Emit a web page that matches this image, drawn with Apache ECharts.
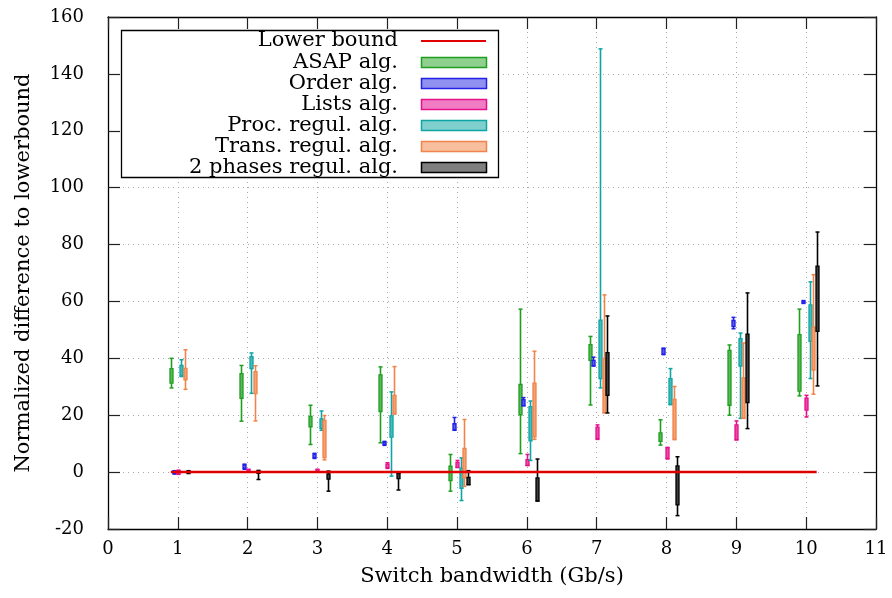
<!DOCTYPE html>
<html><head><meta charset="utf-8">
<script src="https://cdn.jsdelivr.net/npm/echarts@6/dist/echarts.min.js"></script>
<style>html,body{margin:0;padding:0;background:#fff}#c{width:892px;height:598px}</style>
</head><body><div id="c"></div>
<script>
// ---- data ----
const bandwidths = [1, 2, 3, 4, 5, 6, 7, 8, 9, 10];
const seriesNames = ['ASAP alg.', 'Order alg.', 'Lists alg.', 'Proc. regul. alg.', 'Trans. regul. alg.', '2 phases regul. alg.'];
// each entry: [whisker min, box low, box high, whisker max]
const asapVals = [[29.6,31.3,36.4,40.0],[17.9,25.9,34.6,37.5],[9.7,15.9,19.6,23.5],[10.3,21.3,34.2,37.0],[-6.7,-3.0,2.1,6.2],[6.5,20.1,30.8,57.3],[23.6,39.3,44.8,47.7],[9.5,10.8,13.8,18.4],[20.0,23.5,42.8,44.7],[26.8,28.5,48.3,57.3]];
const orderVals = [[-0.7,-0.5,0.4,0.5],[1.0,1.3,2.5,2.8],[4.8,5.1,6.3,6.6],[9.4,9.7,10.5,10.8],[14.7,14.9,17.0,19.2],[23.3,23.4,25.5,26.2],[37.3,37.4,39.3,40.4],[41.3,41.5,43.4,43.6],[50.4,51.2,53.3,54.4],[59.3,59.5,60.1,60.3]];
const listsVals = [[-0.8,-0.6,0.5,0.7],[0.2,0.3,0.9,1.0],[0.0,0.2,0.9,1.0],[1.3,1.6,2.8,3.3],[1.6,1.7,3.4,4.1],[2.3,2.4,4.4,6.2],[11.5,11.8,15.8,16.6],[4.6,4.8,8.5,8.7],[11.3,11.4,16.6,18.0],[19.4,21.8,26.0,27.0]];
const procVals = [[33.6,33.8,37.5,39.5],[27.7,36.4,40.6,41.9],[14.7,15.4,18.7,21.5],[-1.4,12.3,19.8,28.2],[-10.0,-5.7,1.4,5.0],[4.1,11.0,23.0,25.0],[29.6,32.9,53.4,148.8],[23.7,23.8,32.9,36.4],[18.9,37.3,46.9,48.9],[32.9,46.0,58.8,66.9]];
const transVals = [[29.1,32.4,36.5,43.0],[18.0,27.6,35.3,37.4],[4.3,5.1,18.2,19.9],[20.4,20.6,27.0,37.1],[-5.0,-2.0,8.3,18.5],[11.5,12.4,31.3,42.5],[20.8,20.9,40.0,62.3],[11.4,11.6,25.6,30.1],[18.9,19.0,33.1,45.4],[27.4,35.9,51.0,69.4]];
const twoPhaseVals = [[-0.5,-0.3,0.3,0.5],[-2.6,-0.4,0.3,0.6],[-6.7,-2.5,-0.6,0.35],[-6.3,-2.3,-0.5,-0.4],[-4.4,-4.4,-1.9,0.5],[-10.2,-10.1,-2.0,4.6],[20.8,27.0,42.0,54.9],[-15.3,-11.5,2.2,5.4],[15.3,24.4,48.5,63.0],[30.3,49.5,72.4,84.4]];
const lowerBoundX = [0.9, 10.15];
const lowerBoundY = [0, 0];
const xTicks = [0,1,2,3,4,5,6,7,8,9,10,11];
const yTicks = [-20,0,20,40,60,80,100,120,140,160];

// ---- styles ----
const FONT = 'DejaVu Serif';
const allVals = [asapVals, orderVals, listsVals, procVals, transVals, twoPhaseVals];
const offsets = [-0.1, -0.05, 0, 0.05, 0.1, 0.15];
const strokes = ['#1f9f1f', '#2020e6', '#e6108a', '#0fa5a5', '#f0844a', '#000000'];
const fills   = ['#8fd08f', '#9090f0', '#f07cc4', '#7fcfcf', '#f8bf9f', '#7f7f7f'];
const boxFills = ['#5cb85c', '#5a5aeb', '#ec48a8', '#48baba', '#f4a274', '#404040'];

function makeRender(offset, stroke, fill) {
  return function (params, api) {
    const x = api.value(0) + offset;
    const pMin = api.coord([x, api.value(1)]);
    const pLo = api.coord([x, api.value(2)]);
    const pHi = api.coord([x, api.value(3)]);
    const pMax = api.coord([x, api.value(4)]);
    const cx = Math.round(pMin[0]) + 0.5;
    const hw = 1.5, cw = 2;
    return {
      type: 'group',
      children: [
        { type: 'line', shape: { x1: cx, y1: pMin[1], x2: cx, y2: pMax[1] }, style: { stroke: stroke, lineWidth: 1.6 } },
        { type: 'line', shape: { x1: cx - cw, y1: pMin[1], x2: cx + cw, y2: pMin[1] }, style: { stroke: stroke, lineWidth: 1.5 } },
        { type: 'line', shape: { x1: cx - cw, y1: pMax[1], x2: cx + cw, y2: pMax[1] }, style: { stroke: stroke, lineWidth: 1.5 } },
        { type: 'rect', shape: { x: cx - hw, y: pHi[1], width: hw * 2, height: Math.max(pLo[1] - pHi[1], 1) }, style: { fill: fill, stroke: stroke, lineWidth: 1.3 } }
      ]
    };
  };
}

const series = [{
  name: 'Lower bound', type: 'line', z: 10,
  data: lowerBoundX.map((x, i) => [x, lowerBoundY[i]]),
  symbol: 'none', lineStyle: { color: '#e00000', width: 2.5 }, silent: true, animation: false
}];
allVals.forEach((vals, k) => {
  series.push({
    name: seriesNames[k], type: 'custom', z: 5,
    renderItem: makeRender(offsets[k], strokes[k], boxFills[k]),
    encode: { x: 0, y: [1, 2, 3, 4] },
    data: bandwidths.map((b, i) => [b, vals[i][0], vals[i][1], vals[i][2], vals[i][3]]),
    animation: false
  });
});

// legend (drawn as graphic)
const legendNames = ['Lower bound'].concat(seriesNames);
const legTop = 41, legStep = 21.05, legTextRight = 398, swX = 421, swW = 65, swH = 10;
const graphics = [{ type: 'rect', z: 100, shape: { x: 121.5, y: 30.5, width: 377, height: 147 }, style: { fill: '#fff', stroke: '#000', lineWidth: 1.3 } }];
legendNames.forEach((n, i) => {
  const cy = legTop + i * legStep;
  graphics.push({ type: 'text', z: 101, x: legTextRight, y: cy, style: { text: n, font: '21px "' + FONT + '"', fill: '#000', align: 'right', verticalAlign: 'middle' } });
  if (i === 0) {
    graphics.push({ type: 'line', z: 101, shape: { x1: swX, y1: cy, x2: swX + swW, y2: cy }, style: { stroke: '#e00000', lineWidth: 2 } });
  } else {
    graphics.push({ type: 'rect', z: 101, shape: { x: swX + 0.5, y: Math.round(cy - swH / 2) + 0.5, width: swW, height: swH }, style: { fill: fills[i - 1], stroke: strokes[i - 1], lineWidth: 1.5 } });
  }
});

const axisLineStyle = { show: true, onZero: false, lineStyle: { color: '#000', width: 1.3 } };
const tickStyle = { show: true, inside: true, length: 12, lineStyle: { color: '#222', width: 1.2 } };
const gridLine = { show: true, lineStyle: { type: [1, 4], color: '#a8a8a8', width: 1 } };

const chart = echarts.init(document.getElementById('c'), null, { renderer: 'canvas' });
chart.setOption({
  animation: false,
  backgroundColor: '#fff',
  grid: { left: 108, right: 16, top: 17, bottom: 69, containLabel: false },
  xAxis: [{
    type: 'value', min: xTicks[0], max: xTicks[xTicks.length - 1], interval: 1, position: 'bottom',
    axisLine: axisLineStyle, axisTick: tickStyle, splitLine: gridLine,
    axisLabel: { margin: 11, fontFamily: FONT, fontSize: 18, color: '#000', showMinLabel: true, showMaxLabel: true },
    name: 'Switch bandwidth (Gb/s)', nameLocation: 'middle', nameGap: 37,
    nameTextStyle: { fontFamily: FONT, fontSize: 21, color: '#000' }
  }, {
    type: 'value', min: xTicks[0], max: xTicks[xTicks.length - 1], interval: 1, position: 'top',
    axisLine: axisLineStyle, axisTick: tickStyle, splitLine: { show: false }, axisLabel: { show: false }
  }],
  yAxis: [{
    type: 'value', min: yTicks[0], max: yTicks[yTicks.length - 1], interval: 20, position: 'left',
    axisLine: axisLineStyle, axisTick: tickStyle, splitLine: gridLine,
    axisLabel: { margin: 24, fontFamily: FONT, fontSize: 18, color: '#000', showMinLabel: true, showMaxLabel: true },
    name: 'Normalized difference to lowerbound', nameLocation: 'middle', nameGap: 74, nameRotate: 90,
    nameTextStyle: { fontFamily: FONT, fontSize: 21, color: '#000' }
  }, {
    type: 'value', min: yTicks[0], max: yTicks[yTicks.length - 1], interval: 20, position: 'right',
    axisLine: axisLineStyle, axisTick: tickStyle, splitLine: { show: false }, axisLabel: { show: false }
  }],
  graphic: graphics,
  series: series
});
</script>
</body></html>
